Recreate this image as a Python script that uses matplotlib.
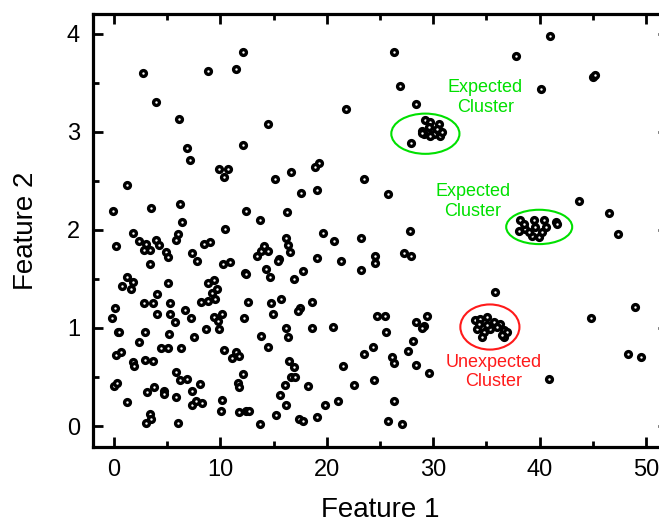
import matplotlib
matplotlib.use('Agg')
import matplotlib.pyplot as plt
from matplotlib.patches import Ellipse
from matplotlib.ticker import MultipleLocator

plt.rcParams['font.family'] = ['Liberation Sans', 'DejaVu Sans']

# scattered background points
bg_x = [12.16, 2.73, 8.87, 11.47, 3.92, 6.14, 14.51, 12.16, 6.87, 7.15, 9.87, 10.75, 10.38, 15.14,
        1.22, -0.09, 3.45, 6.18, 12.41, 13.73, 6.36, 10.41, 1.76, 6.05, 5.80,
        0.16, 2.41, 2.98, 3.92, 4.23, 2.82, 3.39, 4.92, 5.11, 3.42, 7.37, 7.81, 8.46, 9.00, 10.28,
        10.88, 12.35, 12.45, 13.48, 13.79, 14.14, 14.51, 14.26, 14.70, 15.50, 15.45,
        1.25, 1.79, 0.78, 1.60, 5.11, 8.87, 9.44, 9.19, 9.69, 4.08, 2.88, 3.67, 5.24, 8.15, 8.87,
        9.50, 12.63, 14.73, 15.71,
        0.09, -0.16, 4.08, 5.24, 6.68, 7.24, 5.77, 9.44, 10.13, 9.75, 12.19, 14.92,
        0.38, 0.48, 2.92, 5.14, 8.68, 9.84, 7.55, 13.82, 2.32, 14.48,
        0.22, 0.66, 4.39, 5.05, 6.30, 10.38, 11.13, 11.47, 11.76,
        1.79, 1.91, 2.92, 3.64, 5.80, 6.24, 6.87, 8.12, 12.13,
        0.03, 0.31, 3.79, 3.07, 4.67, 4.70, 7.37, 5.80, 11.63, 11.76,
        1.22, 7.37, 7.71, 8.31, 10.13, 10.03, 11.76, 12.38, 12.73, 15.61, 15.20,
        3.36, 3.45, 3.04, 6.05, 13.73,
        26.33, 26.90, 28.34, 21.76, 27.90, 19.28, 18.90, 16.65, 23.51, 17.62, 19.12, 25.74, 16.24,
        19.66, 27.77,
        16.21, 16.33, 16.52, 20.72, 23.23, 19.12, 21.38, 24.51, 24.55, 27.24, 27.87, 23.23, 17.81,
        16.96, 18.59, 17.52, 17.27, 16.21, 16.33, 18.62, 20.56, 24.70, 25.49, 25.58, 28.37, 29.09,
        28.96, 29.37, 28.06, 27.59, 24.36, 23.51, 26.11, 26.36, 28.37, 29.62, 16.43, 16.93, 21.50,
        16.65, 17.02, 16.05, 18.24, 22.57, 24.39, 16.21, 19.81, 21.10, 26.30, 17.37, 17.77, 19.09,
        25.77, 27.05,
        40.99, 37.73, 45.00, 45.15, 40.14, 43.68, 46.54, 47.35, 35.78, 44.81, 48.95, 48.26, 49.48,
        40.83]
bg_y = [3.81, 3.60, 3.62, 3.64, 3.30, 3.13, 3.08, 2.87, 2.83, 2.71, 2.62, 2.62, 2.54, 2.52,
        2.46, 2.19, 2.22, 2.26, 2.19, 2.10, 2.08, 2.01, 1.97, 1.96, 1.90,
        1.84, 1.89, 1.86, 1.90, 1.85, 1.80, 1.79, 1.77, 1.72, 1.65, 1.76, 1.68, 1.86, 1.88, 1.65,
        1.67, 1.56, 1.55, 1.73, 1.78, 1.84, 1.78, 1.60, 1.52, 1.70, 1.68,
        1.52, 1.47, 1.43, 1.40, 1.46, 1.46, 1.49, 1.36, 1.40, 1.35, 1.25, 1.25, 1.25, 1.27, 1.28,
        1.30, 1.27, 1.25, 1.30,
        1.20, 1.10, 1.14, 1.14, 1.18, 1.10, 1.06, 1.11, 1.14, 1.07, 1.10, 1.14,
        0.96, 0.96, 0.96, 0.94, 0.99, 0.99, 0.91, 0.92, 0.86, 0.81,
        0.72, 0.76, 0.80, 0.80, 0.80, 0.78, 0.69, 0.76, 0.71,
        0.65, 0.61, 0.67, 0.66, 0.55, 0.47, 0.48, 0.43, 0.53,
        0.41, 0.44, 0.40, 0.35, 0.36, 0.33, 0.36, 0.30, 0.44, 0.40,
        0.25, 0.22, 0.26, 0.24, 0.27, 0.15, 0.14, 0.15, 0.15, 0.32, 0.11,
        0.12, 0.07, 0.03, 0.03, 0.02,
        3.81, 3.47, 3.28, 3.23, 2.89, 2.68, 2.64, 2.59, 2.52, 2.38, 2.41, 2.37, 2.18,
        1.97, 1.99,
        1.92, 1.85, 1.77, 1.89, 1.92, 1.71, 1.68, 1.73, 1.66, 1.76, 1.73, 1.59, 1.58,
        1.50, 1.27, 1.20, 1.17, 1.00, 0.91, 1.00, 1.01, 1.12, 1.12, 0.96, 1.06, 1.02,
        1.00, 1.12, 0.87, 0.77, 0.81, 0.74, 0.70, 0.64, 0.62, 0.54, 0.66, 0.60, 0.61,
        0.50, 0.50, 0.42, 0.41, 0.42, 0.47, 0.22, 0.22, 0.26, 0.26, 0.07, 0.05, 0.09,
        0.05, 0.02,
        3.98, 3.77, 3.56, 3.58, 3.44, 2.29, 2.17, 1.96, 1.37, 1.10, 1.21, 0.73, 0.70,
        0.48]

# dense groups
c1_x = [29.19, 29.73, 30.51, 28.94, 29.41, 30.04, 30.67, 30.83, 30.36, 29.57, 29.10, 29.73, 28.90]
c1_y = [3.12, 3.10, 3.08, 3.01, 3.00, 2.98, 2.96, 3.00, 3.03, 3.05, 2.98, 2.96, 2.99]
c2_x = [38.19, 39.45, 40.39, 41.49, 38.04, 38.66, 39.60, 40.55, 39.30, 39.92, 38.51, 40.23, 38.98, 41.65]
c2_y = [2.10, 2.10, 2.10, 2.08, 1.99, 2.01, 2.03, 2.03, 1.94, 1.93, 2.06, 1.98, 1.98, 2.06]
c3_x = [33.96, 34.43, 35.06, 35.68, 36.31, 34.12, 34.74, 35.37, 36.00, 36.62, 36.94, 34.59, 36.62,
        35.06, 34.30, 36.47]
c3_y = [1.08, 1.09, 1.11, 1.06, 1.04, 0.99, 0.96, 0.99, 1.01, 0.98, 0.96, 0.91, 0.91, 1.03, 1.04, 0.93]

# ellipse centre, width, height, colour
rings = [(29.26, 2.98, 6.4, 0.41, '#00e000'),
         (39.95, 2.03, 6.2, 0.35, '#00e000'),
         (35.32, 1.01, 5.55, 0.46, '#ff1a1a')]
notes = [(34.9, 3.35, 'Expected\nCluster', '#00e000'),
         (33.7, 2.29, 'Expected\nCluster', '#00e000'),
         (35.68, 0.55, 'Unexpected\nCluster', '#ff1a1a')]

fig = plt.figure(figsize=(6.59, 5.25), dpi=100)
ax = fig.add_axes([0.1404, 0.1491, 0.8725, 0.8242])

mk = dict(linestyle='none', marker='o', ms=4.2, mew=2.4, mec='black', mfc='white')
ax.plot(bg_x, bg_y, **mk)
for cx, cy in [(c1_x, c1_y), (c2_x, c2_y), (c3_x, c3_y)]:
    ax.plot(cx, cy, **mk)

for xc, yc, w, h, col in rings:
    ax.add_patch(Ellipse((xc, yc), w, h, fill=False, edgecolor=col, lw=1.5))
for xt, yt, s, col in notes:
    ax.text(xt, yt, s, color=col, fontsize=13, ha='center', va='center', linespacing=1.2)

ax.set_xlim(-2, 52)
ax.set_ylim(-0.21, 4.2)
ax.xaxis.set_major_locator(MultipleLocator(10))
ax.xaxis.set_minor_locator(MultipleLocator(5))
ax.yaxis.set_major_locator(MultipleLocator(1))
ax.yaxis.set_minor_locator(MultipleLocator(0.5))
ax.tick_params(which='both', direction='in', top=True, right=True, width=2, labelsize=17)
ax.tick_params(which='major', length=7.5, pad=9)
ax.tick_params(which='minor', length=4.5)
for sp in ax.spines.values():
    sp.set_linewidth(2.3)

ax.set_xlabel('Feature 1', fontsize=20, labelpad=11)
ax.set_ylabel('Feature 2', fontsize=20, labelpad=20)

fig.savefig('out.png', dpi=100)
